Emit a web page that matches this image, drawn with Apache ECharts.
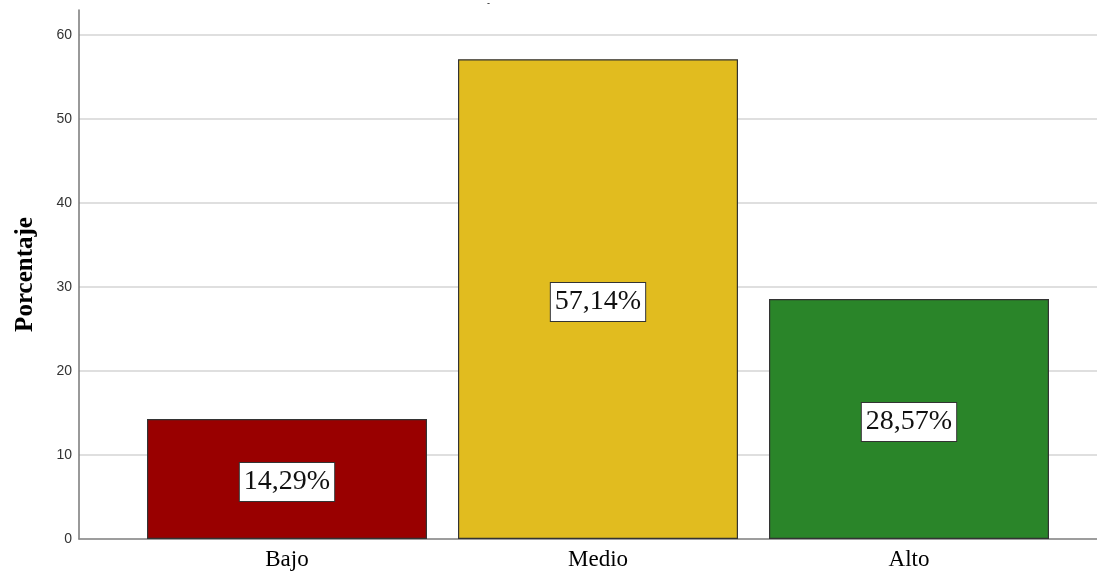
<!DOCTYPE html>
<html><head><meta charset="utf-8">
<script src="https://cdn.jsdelivr.net/npm/echarts@6/dist/echarts.min.js"></script>
<style>html,body{margin:0;padding:0;background:#fff}#c{width:1097px;height:576px}</style>
</head><body><div id="c"></div>
<script>
const categories = ["Bajo", "Medio", "Alto"];
const values = [14.29, 57.14, 28.57];
const colors = ["#990000", "#E1BC1F", "#2A8529"];
const yTicks = [0, 10, 20, 30, 40, 50, 60];

const chart = echarts.init(document.getElementById('c'), null, {renderer: 'canvas'});
const yMin = 0, yMax = 63;
chart.setOption({
  animation: false,
  title: {text: '-', left: 482, top: -6, textStyle: {fontSize: 9, color: '#000', fontWeight: 'normal'}},
  grid: [
    {left: 79, right: 0, top: 10, bottom: 37},
    {left: 131.5, right: 32.5, top: 10, bottom: 37}
  ],
  xAxis: [
    {type: 'value', gridIndex: 0, min: 0, max: 1, axisLine: {show: true, lineStyle: {color: '#888', width: 1.5}},
     axisTick: {show: false}, axisLabel: {show: false}, splitLine: {show: false}},
    {type: 'category', gridIndex: 1, data: categories, axisLine: {show: false}, axisTick: {show: false},
     axisLabel: {fontFamily: 'Liberation Serif', fontSize: 23, color: '#000', margin: 9}}
  ],
  yAxis: [
    {type: 'value', gridIndex: 0, min: yMin, max: yMax, interval: 10,
     name: 'Porcentaje', nameLocation: 'middle', nameGap: 41,
     nameTextStyle: {fontFamily: 'Liberation Serif', fontSize: 25, fontWeight: 'bold', color: '#000'},
     axisLine: {show: true, lineStyle: {color: '#777', width: 1.5}}, axisTick: {show: false},
     axisLabel: {fontFamily: 'Liberation Sans', fontSize: 14, color: '#333', margin: 7,
       formatter: v => yTicks.includes(v) ? String(v) : ''},
     splitLine: {show: true, showMaxLine: false, lineStyle: {color: '#d4d4d4', width: 1.5}}},
    {type: 'value', gridIndex: 1, min: yMin, max: yMax, show: false, splitLine: {show: false}}
  ],
  series: [{
    type: 'bar', xAxisIndex: 1, yAxisIndex: 1, barWidth: 280,
    data: values.map((v, i) => ({value: v, itemStyle: {color: colors[i]}})),
    itemStyle: {borderColor: '#333', borderWidth: 1.2},
    label: {show: true, position: 'inside', offset: [0, 3], formatter: p => p.value.toFixed(2).replace('.', ',') + '%',
      fontFamily: 'Liberation Serif', fontSize: 28, color: '#111', backgroundColor: '#fff',
      borderColor: '#333', borderWidth: 1, padding: [6, 4, 4, 4]}
  }]
});
</script></body></html>
